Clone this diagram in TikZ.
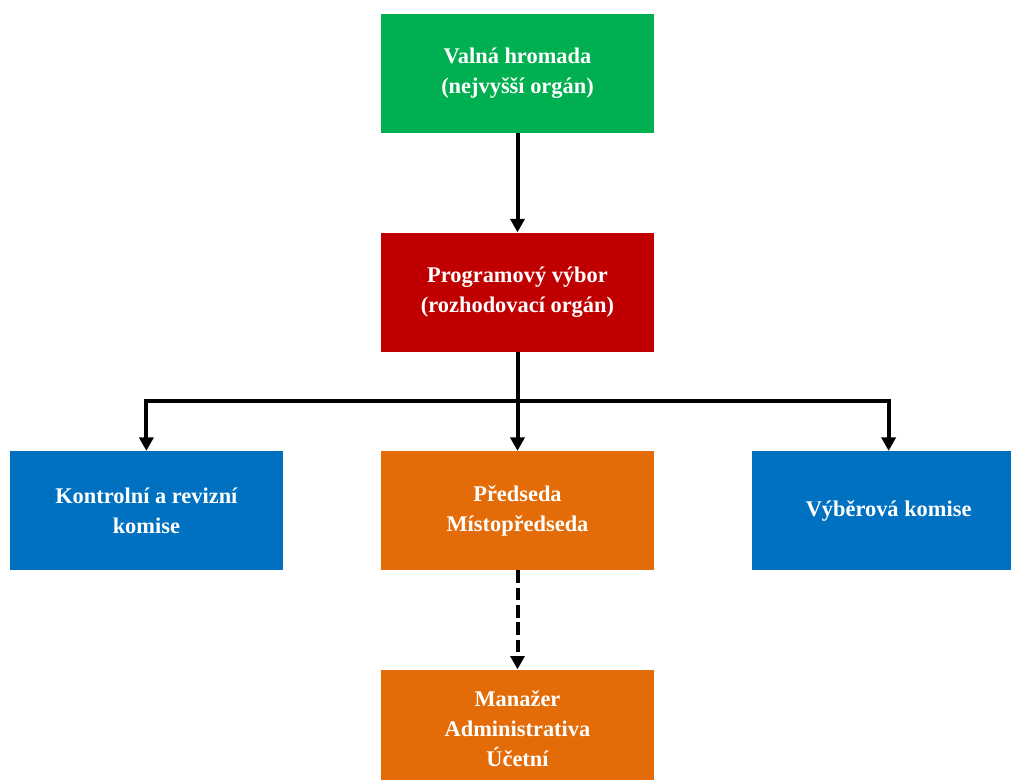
\documentclass[tikz,border=0pt]{standalone}
\usepackage{fontspec}
\setmainfont{Liberation Serif}
\usepackage{tikz}
\usetikzlibrary{positioning,arrows.meta}

\definecolor{zelena}{HTML}{00B050}
\definecolor{cervena}{HTML}{C00000}
\definecolor{modra}{HTML}{0070C0}
\definecolor{oranzova}{HTML}{E36C09}

\begin{document}
\begin{tikzpicture}[x=0.75pt,y=-0.75pt,
    node distance=74.25pt and 73.2pt,
    box/.style={minimum width=204.75pt,minimum height=89.25pt,inner sep=0pt,
      align=center,text=white,font=\fontsize{16.8}{22.5}\selectfont\bfseries},
    link/.style={line width=3pt},
    arr/.style={link,-{Triangle[width=10.5pt,length=10pt]}}]

  \useasboundingbox (0,0) rectangle (1011,780);
  \clip (0,0) rectangle (1011,780);

  % Nodes
  \node [box,fill=zelena] (vh) at (517.5,73.5) {Valná hromada\\(nejvyšší orgán)};
  \node [box,fill=cervena,below=of vh] (pv) {Programový výbor\\(rozhodovací orgán)};
  \node [box,fill=oranzova,below=of pv] (pred) {Předseda\\Místopředseda};
  \node [box,fill=modra,left=of pred] (krk) {Kontrolní a revizní\\komise};
  \node [box,fill=modra,right=of pred] (vk) {Výběrová komise};
  \node [box,fill=oranzova,below=of pred] (man) {Manažer\\Administrativa\\Účetní};

  % Connectors
  \draw [arr] (vh) -- (pv);
  \coordinate (split) at (517.5,401);
  \draw [arr] (pv) -- (pred);
  \draw [arr] (split) -| (krk);
  \draw [arr] (split) -| (vk);
  \draw [arr,dash pattern=on 9.5pt off 3.5pt] (pred) -- (man);

\end{tikzpicture}
\end{document}
